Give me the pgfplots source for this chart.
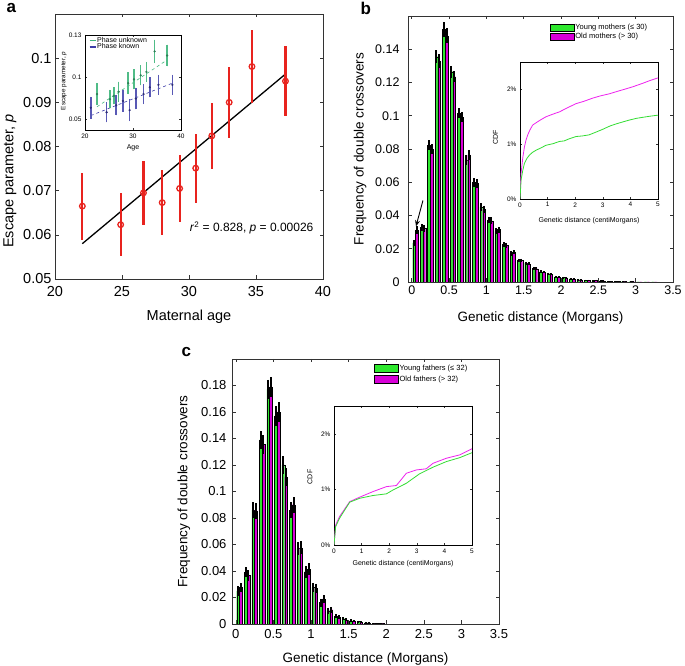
\documentclass[border=0pt]{standalone}
\usepackage{fontspec}
\setmainfont{Liberation Sans}
\usepackage{pgfplots}
\pgfplotsset{compat=1.18}
\usepackage{pgfplotstable}
\usetikzlibrary{arrows.meta}

\definecolor{barg}{HTML}{2EE82E}
\definecolor{barm}{HTML}{D800D8}
\definecolor{cdfg}{HTML}{33DD33}
\definecolor{cdfm}{HTML}{EE22EE}
\definecolor{pred}{HTML}{E8231E}
\definecolor{ing}{HTML}{3DB57A}
\definecolor{inb}{HTML}{3C3CA8}

\newcommand{\fs}[1]{\fontsize{#1}{#1}\selectfont}

% bins: x, young/green, old/magenta, errors
\pgfplotstableread{
x g m eg em
0.05 0.0235 0.0312 0.0020 0.0022
0.15 0.0327 0.0322 0.0022 0.0022
0.25 0.0823 0.0800 0.0030 0.0030
0.35 0.1355 0.1330 0.0040 0.0040
0.45 0.1520 0.1480 0.0045 0.0045
0.55 0.1265 0.1235 0.0035 0.0035
0.65 0.1015 0.0990 0.0030 0.0030
0.75 0.0735 0.0765 0.0030 0.0030
0.85 0.0598 0.0592 0.0025 0.0025
0.95 0.0452 0.0438 0.0022 0.0022
1.05 0.0373 0.0368 0.0020 0.0020
1.15 0.0305 0.0315 0.0018 0.0018
1.25 0.0225 0.0220 0.0015 0.0015
1.35 0.0172 0.0180 0.0013 0.0013
1.45 0.0130 0.0130 0.0011 0.0011
1.55 0.0113 0.0110 0.0010 0.0010
1.65 0.0082 0.0080 0.0009 0.0009
1.75 0.0062 0.0060 0.0008 0.0008
1.85 0.0050 0.0048 0.0007 0.0007
1.95 0.0032 0.0030 0.0006 0.0006
2.05 0.0027 0.0025 0.0005 0.0005
2.15 0.0020 0.0019 0.0005 0.0005
2.25 0.0014 0.0013 0.0004 0.0004
2.35 0.0011 0.0010 0.0004 0.0004
2.45 0.0008 0.0009 0.0003 0.0003
2.55 0.0006 0.0006 0.0003 0.0003
2.65 0.0005 0.0005 0.0002 0.0002
2.75 0.0004 0.0003 0.0002 0.0002
2.85 0.0003 0.0002 0.0002 0.0002
2.95 0.0002 0.0002 0.0001 0.0001
3.05 0.0001 0.0001 0.0001 0.0001
3.15 0.0001 0.0001 0.0001 0.0001
3.25 0.0001 0.0000 0.0001 0.0000
}\mothers

\pgfplotstableread{
x g m eg em
0.05 0.0250 0.0278 0.0035 0.0035
0.15 0.0392 0.0366 0.0040 0.0040
0.25 0.0860 0.0855 0.0060 0.0060
0.35 0.1390 0.1355 0.0070 0.0070
0.45 0.1770 0.1790 0.0075 0.0075
0.55 0.1570 0.1600 0.0075 0.0075
0.65 0.1200 0.1110 0.0065 0.0065
0.75 0.0860 0.0900 0.0060 0.0060
0.85 0.0570 0.0575 0.0050 0.0050
0.95 0.0395 0.0415 0.0045 0.0045
1.05 0.0276 0.0270 0.0035 0.0035
1.15 0.0162 0.0190 0.0030 0.0030
1.25 0.0100 0.0108 0.0022 0.0022
1.35 0.0060 0.0052 0.0017 0.0017
1.45 0.0040 0.0032 0.0013 0.0013
1.55 0.0025 0.0022 0.0010 0.0010
1.65 0.0018 0.0013 0.0008 0.0008
1.75 0.0010 0.0008 0.0006 0.0006
1.85 0.0005 0.0004 0.0004 0.0004
1.95 0.0003 0.0002 0.0003 0.0003
}\fathers

\pgfplotsset{
  mtx/.style={scale only axis, anchor=south west, tick align=inside,
    axis line style={black!80}, tick style={black!80, line width=0.5pt},
    major tick length=3.5pt, scaled ticks=false,
    /pgf/number format/assume math mode=true,
    axis background/.style={fill=white}},
  inset/.style={mtx, major tick length=2pt, axis line style={black, line width=0.6pt},
    tick label style={font=\fs{6.5}}, label style={font=\fs{7}}},
  gbar/.style={ybar, bar width=0.037, bar shift=0pt, fill=barg, draw=black, line width=0.3pt, forget plot,
    error bars/.cd, y dir=both, y explicit, error mark=none, error bar style={draw=black, line width=2pt}},
  mbar/.style={ybar, bar width=0.037, bar shift=0pt, fill=barm, draw=black, line width=0.3pt, forget plot,
    error bars/.cd, y dir=both, y explicit, error mark=none, error bar style={draw=black, line width=2pt}},
  patch/.style={legend image code/.code={\draw[fill=#1, draw=black, line width=0.4pt] (0pt,-3.5pt) rectangle (24pt,3.5pt);}},
}

\begin{document}
\begin{tikzpicture}
\useasboundingbox (0pt,0pt) rectangle (685pt,666pt);

% ---------- a ----------
\node[anchor=base west, font=\fs{17}\bfseries] at (3pt,653pt) {a};
\begin{axis}[mtx, at={(55pt,387pt)}, width=268pt, height=265pt,
  xmin=20, xmax=40, ymin=0.05, ymax=0.11,
  xtick={20,25,30,35,40}, ytick={0.05,0.06,0.07,0.08,0.09,0.1},
  yticklabel style={/pgf/number format/fixed, /pgf/number format/precision=2},
  tick label style={font=\fs{14.5}},
  xticklabel style={yshift=-4pt},
  xlabel={Maternal age}, ylabel={Escape parameter, \textit{p}},
  label style={font=\fs{14.5}},
  xlabel style={at={(axis description cs:0.5,-0.158)}, anchor=base},
  ylabel style={at={(axis description cs:-0.168,0.37)}, anchor=center},
]
\addplot[black, line width=1.3pt] coordinates {(22.04,0.0580) (37.2,0.0964)};
\addplot[only marks, draw=pred, mark=o, mark size=2.8pt, line width=1.3pt, mark options={draw=pred, fill=pred!35},
  error bars/.cd, y dir=both, y explicit, error mark=none, error bar style={draw=pred, line width=2.2pt}]
  coordinates {
  (22.04,0.0665) +- (0,0.0076)
  (24.9,0.0623) +- (0,0.0072)
  (26.6,0.0695) +- (0,0.0073)
  (28.0,0.0673) +- (0,0.0074)
  (29.3,0.0705) +- (0,0.0075)
  (30.5,0.0751) +- (0,0.0078)
  (31.7,0.0824) +- (0,0.0075)
  (33.0,0.0900) +- (0,0.0080)
  (34.7,0.0981) +- (0,0.0082)
  (37.2,0.0948) +- (0,0.0080)
  };
\node[anchor=base east, font=\fs{12}] at (axis cs:39.55,0.0607) {\textit{r}\textsuperscript{2} = 0.828, \textit{p} = 0.00026};
\end{axis}

% inset a
\begin{axis}[inset, at={(85pt,536pt)}, width=96pt, height=95pt,
  xmin=20, xmax=40, ymin=0.037, ymax=0.15,
  xtick={20,30,40}, ytick={0.05,0.1,0.15}, yticklabels={0.05,0.1,0.13},
  xlabel={Age}, ylabel={Escape parameter, \textit{p}},
  ylabel style={font=\fs{6.3}, at={(axis description cs:-0.22,0.516)}, anchor=center},
  xlabel style={at={(axis description cs:0.5,-0.19)}, anchor=center},
  legend style={at={(0.04,0.985)}, anchor=north west, draw=none, fill=none, font=\fs{7},
    inner sep=0pt, row sep=-2.5pt, nodes={inner sep=1pt}},
  legend cell align=left,
  legend image code/.code={\draw[#1, line width=1.1pt] (0pt,0pt) -- (6pt,0pt);},
]
\addlegendimage{ing}
\addlegendentry{Phase unknown}
\addlegendimage{inb}
\addlegendentry{Phase known}
\addplot[ing, dashed, line width=0.6pt, forget plot] coordinates {(22.5,0.0646) (37.1,0.1203)};
\addplot[inb, dashed, line width=0.6pt, forget plot] coordinates {(21.2,0.0541) (38.2,0.0927)};
\addplot[only marks, draw=ing!70!black, fill=ing!70!black, mark=*, mark size=0.9pt, forget plot,
  error bars/.cd, y dir=both, y explicit, error mark=none, error bar style={draw=ing!90!white, line width=1.6pt}]
  coordinates {
  (22.5,0.0797) +- (0,0.0128)
  (25.2,0.0736) +- (0,0.0110)
  (26.0,0.0776) +- (0,0.0100)
  (27.0,0.0825) +- (0,0.0120)
  (29.0,0.0927) +- (0,0.0130)
  (30.2,0.0972) +- (0,0.0120)
  (31.6,0.1020) +- (0,0.0120)
  (32.8,0.1061) +- (0,0.0120)
  (34.5,0.1305) +- (0,0.0140)
  (37.1,0.1256) +- (0,0.0130)
  };
\addplot[only marks, draw=inb!70!black, fill=inb!70!black, mark=*, mark size=0.9pt, forget plot,
  error bars/.cd, y dir=both, y explicit, error mark=none, error bar style={draw=inb!85!white, line width=1.6pt}]
  coordinates {
  (21.2,0.0634) +- (0,0.0130)
  (24.5,0.0581) +- (0,0.0120)
  (26.5,0.0663) +- (0,0.0120)
  (27.9,0.0715) +- (0,0.0130)
  (29.3,0.0606) +- (0,0.0130)
  (30.6,0.0744) +- (0,0.0130)
  (32.2,0.0797) +- (0,0.0120)
  (33.5,0.0878) +- (0,0.0120)
  (35.3,0.0907) +- (0,0.0120)
  (38.2,0.0907) +- (0,0.0120)
  };
\end{axis}

% ---------- b ----------
\node[anchor=base west, font=\fs{17}\bfseries] at (357pt,651pt) {b};
\begin{axis}[mtx, at={(408pt,384pt)}, width=265pt, height=266pt,
  xmin=-0.05, xmax=3.5, ymin=0, ymax=0.16,
  xtick={0,0.5,1,1.5,2,2.5,3,3.5}, ytick={0,0.02,0.04,0.06,0.08,0.1,0.12,0.14},
  yticklabel style={/pgf/number format/fixed, /pgf/number format/precision=2, xshift=-5pt},
  tick label style={font=\fs{12.5}},
  xlabel={Genetic distance (Morgans)}, ylabel={Frequency of double crossovers},
  label style={font=\fs{13.5}},
  xlabel style={at={(axis description cs:0.5,-0.150)}, anchor=base},
  ylabel style={at={(axis description cs:-0.181,0.5)}, anchor=center},
  legend style={at={(0.535,0.975)}, anchor=north west, draw=none, fill=none, font=\fs{7.5},
    inner sep=0pt, row sep=0.5pt, nodes={inner sep=1pt}},
  legend cell align=left,
]
\addlegendimage{patch=barg}
\addlegendentry{Young mothers (≤ 30)}
\addlegendimage{patch=barm}
\addlegendentry{Old mothers (> 30)}
\addplot[gbar] table[x expr=\thisrow{x}-0.0185, y=g, y error=eg] {\mothers};
\addplot[mbar] table[x expr=\thisrow{x}+0.0185, y=m, y error=em] {\mothers};
\draw[-{Stealth[length=6pt,width=5pt]}, black, line width=0.9pt] (axis cs:0.15,0.049) -- (axis cs:0.057,0.0335);
\end{axis}

% inset b
\begin{axis}[inset, at={(520pt,467pt)}, width=138pt, height=137pt,
  xmin=0, xmax=5, ymin=0, ymax=2.5,
  xtick={0,1,2,3,4,5}, ytick={0,1,2}, yticklabels={0\%,1\%,2\%},
  xlabel={Genetic distance (centiMorgans)}, ylabel={CDF},
  xlabel style={at={(axis description cs:0.5,-0.168)}, anchor=base},
  ylabel style={at={(axis description cs:-0.178,0.45)}, anchor=center},
]
\addplot[cdfm, line width=0.8pt] coordinates {
(0,0) (0.02,0.3) (0.04,0.47) (0.1,0.75) (0.16,0.95) (0.22,1.08) (0.28,1.17) (0.36,1.26)
(0.46,1.35) (0.55,1.38) (0.64,1.41) (0.8,1.46) (0.94,1.50) (1.2,1.55) (1.43,1.59) (1.7,1.66)
(2.03,1.74) (2.3,1.78) (2.63,1.84) (2.9,1.88) (3.24,1.92) (3.5,1.96) (3.84,2.01) (4.1,2.05)
(4.44,2.11) (4.7,2.16) (5.0,2.21)};
\addplot[cdfg, line width=0.8pt] coordinates {
(0,0) (0.04,0.35) (0.1,0.52) (0.16,0.65) (0.25,0.74) (0.34,0.80) (0.45,0.85) (0.58,0.89)
(0.75,0.93) (0.94,0.98) (1.2,1.01) (1.43,1.05) (1.6,1.06) (1.79,1.10) (2.03,1.14) (2.25,1.15)
(2.5,1.17) (2.75,1.22) (2.99,1.27) (3.25,1.33) (3.48,1.37) (3.75,1.41) (3.96,1.44) (4.2,1.47)
(4.44,1.49) (4.7,1.51) (5.0,1.53)};
\end{axis}

% ---------- c ----------
\node[anchor=base west, font=\fs{17}\bfseries] at (178pt,309pt) {c};
\begin{axis}[mtx, at={(232pt,42pt)}, width=267pt, height=265pt,
  xmin=-0.05, xmax=3.5, ymin=0, ymax=0.2,
  xtick={0,0.5,1,1.5,2,2.5,3,3.5}, ytick={0,0.02,0.04,0.06,0.08,0.1,0.12,0.14,0.16,0.18},
  yticklabel style={/pgf/number format/fixed, /pgf/number format/precision=2, xshift=-2pt},
  xticklabel style={yshift=-2pt},
  tick label style={font=\fs{13}},
  xlabel={Genetic distance (Morgans)}, ylabel={Frequency of double crossovers},
  label style={font=\fs{13.5}},
  xlabel style={at={(axis description cs:0.5,-0.147)}, anchor=base},
  ylabel style={at={(axis description cs:-0.18,0.5)}, anchor=center},
  legend style={at={(0.532,0.982)}, anchor=north west, draw=none, fill=none, font=\fs{7.5},
    inner sep=0pt, row sep=2pt, nodes={inner sep=1pt}},
  legend cell align=left,
]
\addlegendimage{legend image code/.code={\draw[fill=barg, draw=black, line width=0.4pt] (0pt,-4pt) rectangle (24pt,4pt);}}
\addlegendentry{Young fathers (≤ 32)}
\addlegendimage{legend image code/.code={\draw[fill=barm, draw=black, line width=0.4pt] (0pt,-4pt) rectangle (24pt,4pt);}}
\addlegendentry{Old fathers (> 32)}
\addplot[gbar] table[x expr=\thisrow{x}-0.0185, y=g, y error=eg] {\fathers};
\addplot[mbar] table[x expr=\thisrow{x}+0.0185, y=m, y error=em] {\fathers};
\end{axis}

% inset c
\begin{axis}[inset, at={(334pt,121pt)}, width=138pt, height=139pt,
  xmin=0, xmax=5, ymin=0, ymax=2.5,
  xtick={0,1,2,3,4,5}, ytick={0,1,2}, yticklabels={0\%,1\%,2\%},
  xlabel={Genetic distance (centiMorgans)}, ylabel={CDF},
  xlabel style={at={(axis description cs:0.5,-0.144)}, anchor=base},
  ylabel style={at={(axis description cs:-0.174,0.49)}, anchor=center},
]
\addplot[cdfm, line width=0.8pt] coordinates {
(0,0) (0.06,0.36) (0.2,0.51) (0.39,0.65) (0.57,0.78) (0.93,0.86) (1.41,0.96) (1.9,1.05)
(2.26,1.07) (2.62,1.29) (2.98,1.35) (3.34,1.37) (3.59,1.47) (4.07,1.56) (4.55,1.62) (5.0,1.73)};
\addplot[cdfg, line width=0.8pt] coordinates {
(0,0) (0.06,0.33) (0.2,0.48) (0.39,0.63) (0.57,0.77) (0.93,0.84) (1.41,0.89) (1.9,0.92)
(2.14,0.99) (2.62,1.11) (3.1,1.28) (3.59,1.40) (4.07,1.50) (4.55,1.57) (5.0,1.66)};
\end{axis}
\end{tikzpicture}
\end{document}
